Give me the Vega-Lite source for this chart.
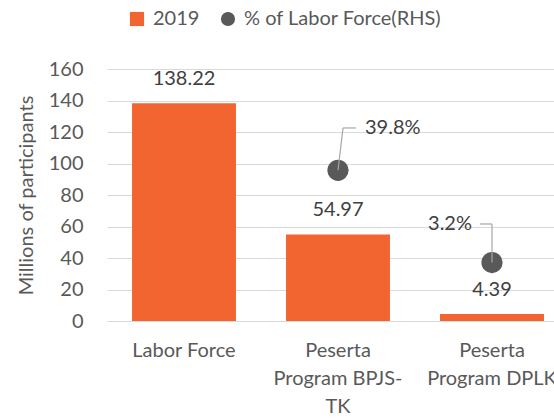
{
  "$schema": "https://vega.github.io/schema/vega-lite/v6.json",
  "autosize": "none",
  "width": 447,
  "height": 252,
  "padding": {"left": 107, "top": 69, "right": 0, "bottom": 97},
  "background": "white",
  "config": {
    "view": {"stroke": null},
    "font": "Lato",
    "axis": {"labelFont": "Lato", "titleFont": "Lato", "labelColor": "#595959", "titleColor": "#595959"},
    "legend": {"labelFont": "Lato"}
  },
  "datasets": {
    "bars": [
      {"cat": "Labor Force", "series": "2019", "value": 138.22},
      {"cat": "Peserta Program BPJS-TK", "series": "2019", "value": 54.97},
      {"cat": "Peserta Program DPLK", "series": "2019", "value": 4.39}
    ],
    "pct": [
      {"cat": "Peserta Program BPJS-TK", "series": "% of Labor Force(RHS)", "pct": 39.8, "label": "39.8%", "labelY": 56.6},
      {"cat": "Peserta Program DPLK", "series": "% of Labor Force(RHS)", "pct": 3.2, "label": "3.2%", "labelY": 18.5}
    ]
  },
  "encoding": {
    "x": {
      "field": "cat", "type": "nominal", "sort": null,
      "scale": {"domain": ["Labor Force", "Peserta Program BPJS-TK", "Peserta Program DPLK"], "range": [0, 462], "paddingInner": 0.325, "paddingOuter": 0.1625},
      "axis": {
        "title": null, "labelAngle": 0, "ticks": false, "domainColor": "#d9d9d9", "domainWidth": 1,
        "labelFontSize": 20, "labelPadding": 19, "labelLineHeight": 28, "labelBaseline": "top", "labelLimit": 0,
        "labelExpr": "datum.value == 'Labor Force' ? 'Labor Force' : datum.value == 'Peserta Program BPJS-TK' ? ['Peserta', 'Program BPJS-', 'TK'] : ['Peserta', 'Program DPLK']"
      }
    }
  },
  "resolve": {"scale": {"y": "independent"}},
  "layer": [
    {
      "data": {"name": "bars"},
      "encoding": {
        "y": {
          "field": "value", "type": "quantitative",
          "scale": {"domain": [0, 160], "nice": false},
          "axis": {
            "title": "Millions of participants", "titleFontSize": 20, "titleFontWeight": "normal", "titlePadding": 12,
            "values": [0, 20, 40, 60, 80, 100, 120, 140, 160], "ticks": false, "domain": false,
            "labelFontSize": 20, "labelPadding": 24, "gridColor": "#d9d9d9", "gridWidth": 1
          }
        }
      },
      "layer": [
        {
          "mark": {"type": "bar"},
          "encoding": {
            "color": {
              "field": "series", "type": "nominal",
              "scale": {"domain": ["2019", "% of Labor Force(RHS)"], "range": ["#F26531", "#595959"]},
              "legend": {
                "title": null, "orient": "none", "direction": "horizontal", "legendX": 20, "legendY": -60,
                "labelFontSize": 20, "labelColor": "#595959", "symbolSize": 200, "symbolStrokeWidth": 0,
                "columnPadding": 18, "labelOffset": 6, "labelLimit": 0
              }
            }
          }
        },
        {
          "mark": {"type": "text", "dy": -24, "baseline": "middle", "fontSize": 20, "color": "#404040", "font": "Lato"},
          "encoding": {"text": {"field": "value", "type": "quantitative", "format": ".2f"}}
        }
      ]
    },
    {
      "data": {"name": "pct"},
      "encoding": {
        "y": {"field": "pct", "type": "quantitative", "scale": {"domain": [-20, 80], "nice": false, "zero": false}, "axis": null}
      },
      "layer": [
        {
          "mark": {"type": "point", "filled": true, "opacity": 1, "size": 450},
          "encoding": {
            "color": {"field": "series", "type": "nominal"},
            "shape": {
              "field": "series", "type": "nominal",
              "scale": {"domain": ["2019", "% of Labor Force(RHS)"], "range": ["square", "circle"]}
            }
          }
        },
        {
          "transform": [{"filter": "datum.cat == 'Peserta Program BPJS-TK'"}],
          "mark": {"type": "rule", "color": "#a6a6a6", "strokeWidth": 1.2, "x2Offset": 5},
          "encoding": {"x2": {"field": "cat"}, "y2": {"field": "labelY"}}
        },
        {
          "transform": [{"filter": "datum.cat == 'Peserta Program BPJS-TK'"}],
          "mark": {"type": "rule", "color": "#a6a6a6", "strokeWidth": 1.2, "xOffset": 5, "x2Offset": 18},
          "encoding": {"x2": {"field": "cat"}, "y": {"field": "labelY", "type": "quantitative"}}
        },
        {
          "transform": [{"filter": "datum.cat == 'Peserta Program BPJS-TK'"}],
          "mark": {"type": "text", "align": "left", "baseline": "middle", "dx": 27, "fontSize": 20, "color": "#404040", "font": "Lato"},
          "encoding": {"y": {"field": "labelY", "type": "quantitative"}, "text": {"field": "label"}}
        },
        {
          "transform": [{"filter": "datum.cat == 'Peserta Program DPLK'"}],
          "mark": {"type": "rule", "color": "#a6a6a6", "strokeWidth": 1.2},
          "encoding": {"y2": {"field": "labelY"}}
        },
        {
          "transform": [{"filter": "datum.cat == 'Peserta Program DPLK'"}],
          "mark": {"type": "rule", "color": "#a6a6a6", "strokeWidth": 1.2, "xOffset": -12, "x2Offset": 0},
          "encoding": {"x2": {"field": "cat"}, "y": {"field": "labelY", "type": "quantitative"}}
        },
        {
          "transform": [{"filter": "datum.cat == 'Peserta Program DPLK'"}],
          "mark": {"type": "text", "align": "right", "baseline": "middle", "dx": -20, "fontSize": 20, "color": "#404040", "font": "Lato"},
          "encoding": {"y": {"field": "labelY", "type": "quantitative"}, "text": {"field": "label"}}
        }
      ]
    }
  ]
}
